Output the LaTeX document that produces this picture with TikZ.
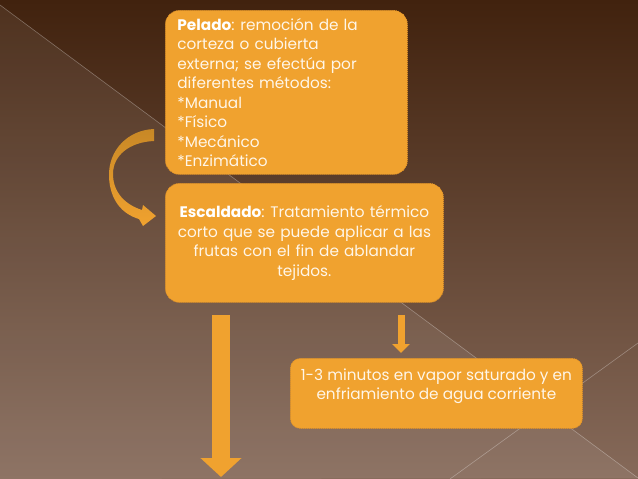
\documentclass[tikz,border=0pt]{standalone}
\usepackage{fontspec}
\setmainfont{Poppins}
\usetikzlibrary{arrows.meta,calc}
\definecolor{bgtop}{RGB}{65,34,14}
\definecolor{bgbot}{RGB}{134,106,90}
\definecolor{boxor}{RGB}{240,162,47}
\definecolor{boxedge}{RGB}{222,145,40}
\definecolor{ribdark}{RGB}{200,136,38}
\definecolor{txtc}{RGB}{255,246,232}
\tikzset{
  boxtxt/.style={text=txtc, font=\fontsize{15.3}{19.5}\selectfont},
  box/.style={draw=boxedge, dash pattern=on 1pt off 1pt, line width=0.8pt,
    fill=boxor, rounded corners=14pt, boxtxt},
  bigarrow/.style={draw=boxor, line width=18pt,
    -{Triangle[width=40pt,length=19pt]}},
  smallarrow/.style={draw=boxor, line width=7pt,
    -{Triangle[width=17pt,length=9pt]}},
}
\begin{document}
\begin{tikzpicture}[x=1pt,y=-1pt]
\useasboundingbox (0,0) rectangle (638,479);
% background
\shade[top color=bgtop, bottom color=bgbot] (0,0) rectangle (638,479);
\fill[white, opacity=0.07] (0,5) -- (638,478) -- (0,479) -- cycle;
\draw[white, opacity=0.3, line width=0.6pt] (0,5) -- (638,478);
\draw[white, opacity=0.3, line width=0.6pt] (638,343) -- (450,479);

% boxes
\node[box, anchor=north west, minimum width=238pt, minimum height=164pt,
      text width=218pt, align=left, inner xsep=12pt] (pel) at (165,10)
  {\textbf{\color{white}Pelado}:\kern-2pt{} remoción de la\\corteza o cubierta\\externa; se efectúa por\\diferentes métodos:\\{}*Manual\\{}*Físico\\{}*Mecánico\\{}*Enzimático};
\node[box, anchor=north west, minimum width=278pt, minimum height=119pt,
      text width=270pt, align=center, inner xsep=4pt] (esc) at (165,183)
  {\textbf{\color{white}Escaldado}:\kern-2pt{} Tratamiento térmico\\corto que se puede aplicar a las\\frutas con el fin de ablandar\\tejidos.};
\node[box, rounded corners=10pt, anchor=north west, minimum width=292pt,
      minimum height=70pt] (note) at (290,358) {};
\node[boxtxt, align=center]
  (notetxt) at ($(note.center)+(0,-7)$)
  {1-3 minutos en vapor saturado y en\\enfriamiento de agua corriente};

% curved ribbon arrow from pel to esc
\shade[top color=ribdark, bottom color=boxor]
  (154,129) .. controls (128,130) and (108,150) .. (109,177)
  .. controls (110,200) and (122,214) .. (139,219)
  -- (143,226) -- (156,216) -- (143,205) -- (142,210)
  .. controls (126,205) and (113,193) .. (113,174)
  .. controls (113,155) and (130,142) .. (154,141) -- cycle;

% straight arrows
\coordinate (bigend) at (221,477);
\draw[bigarrow] ($(esc.south west)+(56,12)$) -- (bigend);
\draw[smallarrow] ($(esc.south west)+(236,12)$) -- ($(note.north west)+(111,-5)$);
\end{tikzpicture}
\end{document}
